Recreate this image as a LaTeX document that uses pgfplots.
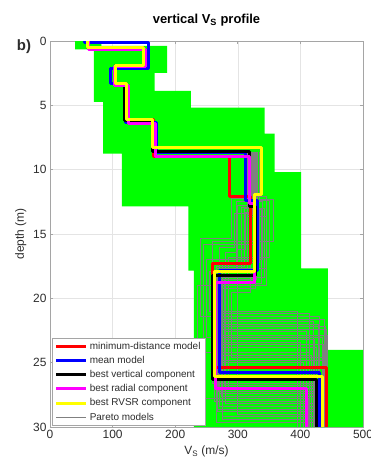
\documentclass[border=0pt]{standalone}
\usepackage{pgfplots}
\pgfplotsset{compat=1.18}
\usepackage{fontspec}
\setmainfont{Liberation Sans}
\definecolor{mgreen}{RGB}{0,255,0}
\definecolor{myellow}{RGB}{255,255,0}
\definecolor{mmag}{RGB}{255,0,255}
\definecolor{mred}{RGB}{255,0,0}
\definecolor{mblue}{RGB}{0,0,255}
\definecolor{pgray}{RGB}{128,128,128}
\definecolor{gridc}{RGB}{228,228,228}
\definecolor{framec}{RGB}{165,165,165}
\definecolor{tickc}{RGB}{45,45,45}
\begin{document}
\begin{tikzpicture}
\begin{axis}[
 scale only axis, width=313bp, height=386bp,
 xmin=0, xmax=500, ymin=0, ymax=30, y dir=reverse,
 xtick={0,100,...,500}, ytick={0,5,...,30},
 grid=major, major grid style={gridc, line width=0.5bp},
 axis line style={framec, line width=0.6bp},
 tick style={framec, line width=0.6bp}, tick align=inside, major tick length=3bp,
 tick pos=both, xticklabel pos=bottom, yticklabel pos=left,
 ticklabel style={font=\fontsize{12}{14}\selectfont, text=tickc},
 /pgf/number format/assume math mode=true,
 xlabel={V\textsubscript{S} (m/s)},
 ylabel={depth (m)},
 label style={font=\fontsize{12}{14}\selectfont, text=tickc},
 title={\textbf{vertical V\textsubscript{S} profile}},
 title style={font=\fontsize{13}{15}\selectfont, at={(0.5,1)}, anchor=base, yshift=12bp},
 legend style={at={(0.005,0.003)}, anchor=south west, font=\fontsize{10}{12}\selectfont, draw=framec, fill=white, inner xsep=3bp, inner ysep=2bp, row sep=1.5bp, cells={anchor=west}, text=tickc},
 legend image code/.code={\draw[#1] (0bp,0bp) -- (30bp,0bp);},
]
% envelope
\addplot[fill=mgreen, draw=none, forget plot] coordinates {
(40,0) (40,0.65) (70,0.65) (70,4.73) (85,4.73) (85,8.75) (115,8.75) (115,12.85)
(221,12.85) (221,17.85) (230,17.85) (230,30) (500,30) (500,24) (444,24) (444,17.67)
(401,17.67) (401,10.2) (359,10.2) (359,7.2) (343,7.2) (343,5.17) (225,5.17) (225,3.87)
(167,3.87) (167,2.47) (187,2.47) (187,0.37) (82,0.37) (82,0)} -- cycle;
% Pareto models
\pgfplotsset{pareto/.style={pgray, line width=0.7bp, forget plot}}
\addplot[pareto] coordinates {(320,8.6) (320,12.2) (290,12.2) (290,15.3) (240,15.3) (240,21.4) (430,21.4) (430,30)};
\addplot[pareto] coordinates {(330,8.6) (330,13.4) (295,13.4) (295,16.0) (270,16.0) (270,21.8) (420,21.8) (420,30)};
\addplot[pareto] coordinates {(335,8.6) (335,12.3) (356,12.3) (356,15.6) (260,15.6) (260,22.2) (440,22.2) (440,30)};
\addplot[pareto] coordinates {(325,8.6) (325,12.8) (300,12.8) (300,16.4) (280,16.4) (280,22.6) (410,22.6) (410,30)};
\addplot[pareto] coordinates {(318,8.6) (318,12.5) (340,12.5) (340,17.0) (250,17.0) (250,23.0) (435,23.0) (435,30)};
\addplot[pareto] coordinates {(322,8.6) (322,13.0) (310,13.0) (310,17.5) (265,17.5) (265,23.4) (400,23.4) (400,30)};
\addplot[pareto] coordinates {(328,8.6) (328,12.0) (330,12.0) (330,18.5) (270,18.5) (270,23.8) (425,23.8) (425,30)};
\addplot[pareto] coordinates {(315,8.6) (315,13.6) (345,13.6) (345,19.0) (235,19.0) (235,24.2) (415,24.2) (415,30)};
\addplot[pareto] coordinates {(332,8.6) (332,12.6) (320,12.6) (320,19.5) (290,19.5) (290,24.6) (440,24.6) (440,30)};
\addplot[pareto] coordinates {(326,8.6) (326,13.2) (335,13.2) (335,17.2) (275,17.2) (275,25.0) (405,25.0) (405,30)};
\addplot[pareto] coordinates {(319,8.6) (319,12.9) (305,12.9) (305,18.0) (260,18.0) (260,26.6) (438,26.6) (438,30)};
\addplot[pareto] coordinates {(331,8.6) (331,12.4) (350,12.4) (350,16.8) (285,16.8) (285,27.0) (420,27.0) (420,30)};
\addplot[pareto] coordinates {(324,8.6) (324,13.5) (315,13.5) (315,18.2) (270,18.2) (270,27.4) (430,27.4) (430,30)};
\addplot[pareto] coordinates {(317,8.6) (317,12.7) (325,12.7) (325,15.8) (245,15.8) (245,27.8) (412,27.8) (412,30)};
\addplot[pareto] coordinates {(329,8.6) (329,13.1) (338,13.1) (338,18.8) (280,18.8) (280,28.2) (437,28.2) (437,30)};
\addplot[pareto] coordinates {(321,8.6) (321,12.1) (345,12.1) (345,17.7) (265,17.7) (265,28.6) (425,28.6) (425,30)};
\addplot[pareto] coordinates {(327,8.6) (327,13.3) (312,13.3) (312,16.2) (300,16.2) (300,29.0) (418,29.0) (418,30)};
\addplot[pareto] coordinates {(323,8.6) (323,12.9) (328,12.9) (328,19.2) (275,19.2) (275,29.4) (433,29.4) (433,30)};
\addplot[pareto] coordinates {(334,8.6) (334,12.5) (298,12.5) (298,17.9) (255,17.9) (255,21.0) (395,21.0) (395,30)};
\addplot[pareto] coordinates {(316,8.6) (316,13.0) (342,13.0) (342,18.4) (268,18.4) (268,22.9) (443,22.9) (443,30)};
\addplot[pareto] coordinates {(270,18.5) (270,21.2) (415,21.2) (415,30)};
\addplot[pareto] coordinates {(262,18.5) (262,21.6) (438,21.6) (438,30)};
\addplot[pareto] coordinates {(275,18.5) (275,22.0) (428,22.0) (428,30)};
\addplot[pareto] coordinates {(268,18.5) (268,22.4) (441,22.4) (441,30)};
\addplot[pareto] coordinates {(280,18.5) (280,23.2) (422,23.2) (422,30)};
\addplot[pareto] coordinates {(266,18.5) (266,23.6) (436,23.6) (436,30)};
\addplot[pareto] coordinates {(272,18.5) (272,24.4) (418,24.4) (418,30)};
\addplot[pareto] coordinates {(264,18.5) (264,24.8) (442,24.8) (442,30)};
\addplot[pareto] coordinates {(278,18.5) (278,26.8) (432,26.8) (432,30)};
\addplot[pareto] coordinates {(269,18.5) (269,27.2) (426,27.2) (426,30)};
\addplot[pareto] coordinates {(274,18.5) (274,27.6) (440,27.6) (440,30)};
\addplot[pareto] coordinates {(263,18.5) (263,28.0) (415,28.0) (415,30)};
\addplot[pareto] coordinates {(271,18.5) (271,28.4) (434,28.4) (434,30)};
\addplot[pareto] coordinates {(267,18.5) (267,28.8) (428,28.8) (428,30)};
\addplot[pareto] coordinates {(276,18.5) (276,29.2) (441,29.2) (441,30)};
\addplot[pareto] coordinates {(265,18.5) (265,29.6) (420,29.6) (420,30)};
% minimum-distance model
\addplot[mred, line width=3bp, line join=round] coordinates {
(60,0) (60,0.52) (149.5,0.52) (149.5,1.87) (105,1.87) (105,3.3) (122,3.3) (122,6.1) (166,6.1) (166,9.0)
(287,9.0) (287,12.1) (320,12.1) (320,17.3) (260,17.3) (260,25.4) (442,25.4) (442,30)};
\addlegendentry{minimum-distance model}
% mean model
\addplot[mblue, line width=3bp, line join=round] coordinates {
(55,0) (55,0.15) (157,0.15) (157,2.1) (96,2.1) (96,3.3) (120,3.3) (120,6.3) (170,6.3) (170,8.7)
(313,8.7) (313,12.4) (332,12.4) (332,17.85) (270,17.85) (270,25.8) (430,25.8) (430,30)};
\addlegendentry{mean model}
% best vertical
\addplot[black, line width=3bp, line join=round] coordinates {
(60,0) (60,0.52) (149.5,0.52) (149.5,1.87) (105,1.87) (105,3.3) (119,3.3) (119,6.2) (163,6.2) (163,8.57)
(319,8.57) (319,12.9) (329,12.9) (329,18.2) (260,18.2) (260,26.3) (426,26.3) (426,30)};
\addlegendentry{best vertical component}
% best radial
\addplot[mmag, line width=3bp, line join=round] coordinates {
(62,0) (62,0.65) (153,0.65) (153,2.0) (103,2.0) (103,3.45) (125,3.45) (125,6.45) (168,6.45) (168,9.0)
(318,9.0) (318,12.6) (327,12.6) (327,18.75) (265,18.75) (265,27.0) (409,27.0) (409,30)};
\addlegendentry{best radial component}
% best RVSR
\addplot[myellow, line width=3bp, line join=round] coordinates {
(60,0) (60,0.52) (149.5,0.52) (149.5,1.87) (105,1.87) (105,3.3) (122,3.3) (122,6.1) (164.5,6.1) (164.5,8.3)
(338,8.3) (338,11.9) (326,11.9) (326,17.95) (262,17.95) (262,26.1) (436,26.1) (436,30)};
\addlegendentry{best RVSR component}
\addlegendimage{pgray, line width=0.8bp}
\addlegendentry{Pareto models}
\end{axis}
\node[anchor=base, font=\bfseries\fontsize{15}{17}\selectfont, text=tickc] at ([xshift=-26bp,yshift=-10bp]current axis.north west) {b)};
\pgfresetboundingbox
\path[use as bounding box] ([xshift=-50bp,yshift=-32bp]current axis.south west) rectangle ([xshift=8bp,yshift=41bp]current axis.north east);
\end{tikzpicture}
\end{document}
